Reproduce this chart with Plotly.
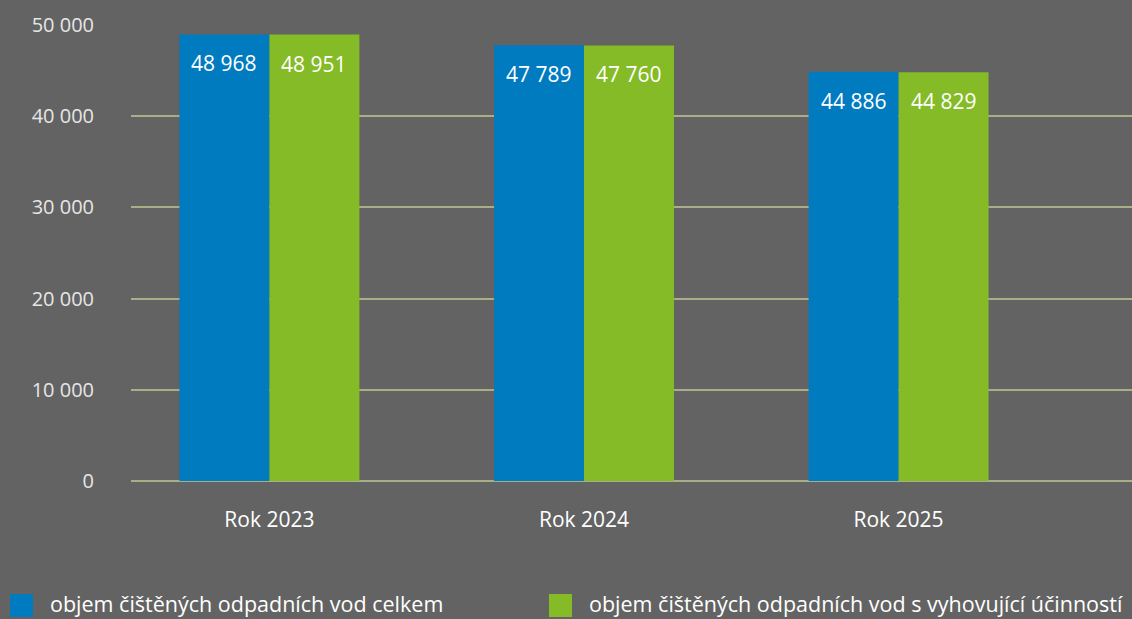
import plotly.graph_objects as go

categories = ["Rok 2023", "Rok 2024", "Rok 2025"]
total = [48968, 47789, 44886]
compliant = [48951, 47760, 44829]
series_names = [
    "objem čištěných odpadních vod celkem",
    "objem čištěných odpadních vod s vyhovující účinností",
]
y_ticks = [0, 10000, 20000, 30000, 40000, 50000]
y_tick_labels = ["0", "10 000", "20 000", "30 000", "40 000", "50 000"]

BG = "#636363"
BLUE = "#017bbf"
GREEN = "#84bb26"
GRID = "#a7ae88"
FONT = "Open Sans"

W, H = 1132, 619
ML, MR, MT, MB = 131, 0, 25, 138
PW, PH = W - ML - MR, H - MT - MB


def fmt(v):
    return f"{v:,}".replace(",", " ")


def px_x(p):
    return (p - ML) / PW


def px_y(p):
    return (H - MB - p) / PH


fig = go.Figure()
series = [(series_names[0], total, BLUE, -45, 10), (series_names[1], compliant, GREEN, 45, 549)]
for name, vals, col, shift, leg_x in series:
    fig.add_trace(go.Bar(
        x=categories, y=vals, name=name, marker=dict(color=col, line=dict(width=0)),
        showlegend=False,
    ))
    for c, v in zip(categories, vals):
        fig.add_annotation(x=c, y=v, text=fmt(v), showarrow=False, xshift=shift, yshift=-13,
                           yanchor="top", font=dict(family=FONT, size=21, color="white"))
    # legend swatch + label
    fig.add_shape(type="rect", xref="paper", yref="paper",
                  x0=px_x(leg_x), x1=px_x(leg_x + 23), y0=px_y(594), y1=px_y(617),
                  fillcolor=col, line=dict(width=0))
    fig.add_annotation(xref="paper", yref="paper", x=px_x(leg_x + 38), y=px_y(603),
                       xanchor="left", yanchor="middle", text=name, showarrow=False,
                       font=dict(family=FONT, size=21.5, color="white"))

fig.update_layout(
    width=W, height=H,
    paper_bgcolor=BG, plot_bgcolor=BG,
    margin=dict(l=ML, r=MR, t=MT, b=MB),
    barmode="group", bargap=0.428, bargroupgap=0,
    showlegend=False,
    font=dict(family=FONT, color="white"),
)
fig.update_xaxes(range=[-0.44, 2.742], showgrid=False, showline=False, zeroline=False,
                 tickfont=dict(family=FONT, size=21, color="white"), ticks="", ticklabelstandoff=24)
fig.update_yaxes(range=[0, 50000], tickvals=y_ticks, ticktext=y_tick_labels,
                 showgrid=True, gridcolor=GRID, gridwidth=1.5, zeroline=True, zerolinecolor=GRID,
                 zerolinewidth=1.5, showline=False, ticks="",
                 tickfont=dict(family=FONT, size=20, color="#e6e6e6"), ticklabelstandoff=36)

fig.write_html("out.html", config={"displayModeBar": False},
               post_script="document.body.style.margin='0';")
